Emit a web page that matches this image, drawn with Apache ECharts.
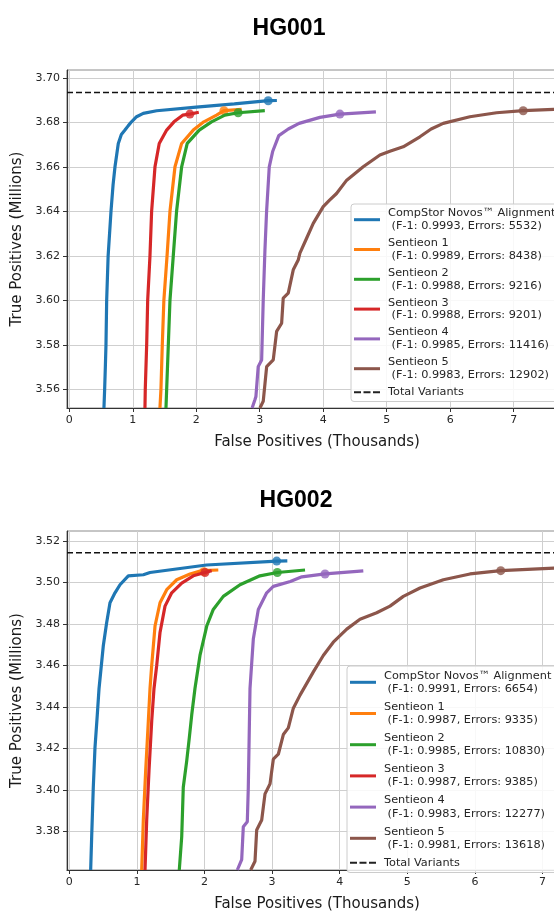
<!DOCTYPE html>
<html>
<head>
<meta charset="utf-8">
<script src="https://cdn.jsdelivr.net/npm/echarts@6/dist/echarts.min.js"></script>
<style>
html,body{margin:0;padding:0;overflow:hidden;background:#fff;}
#c{width:600px;height:913px;}
</style>
</head>
<body>
<div id="c"></div>
<script>
// ---------- DATA ----------
const colors = ['#1f77b4', '#ff7f0e', '#2ca02c', '#d62728', '#9467bd', '#8c564b'];
const xTicks = [0, 1, 2, 3, 4, 5, 6, 7];
const yTicks1 = [3.56, 3.58, 3.60, 3.62, 3.64, 3.66, 3.68, 3.70];
const yTicks2 = [3.38, 3.40, 3.42, 3.44, 3.46, 3.48, 3.50, 3.52];

const names1 = [
  'CompStor Novos\u2122 Alignment\n (F-1: 0.9993, Errors: 5532)',
  'Sentieon 1\n (F-1: 0.9989, Errors: 8438)',
  'Sentieon 2\n (F-1: 0.9988, Errors: 9216)',
  'Sentieon 3\n (F-1: 0.9988, Errors: 9201)',
  'Sentieon 4\n (F-1: 0.9985, Errors: 11416)',
  'Sentieon 5\n (F-1: 0.9983, Errors: 12902)'
];
const names2 = [
  'CompStor Novos\u2122 Alignment\n (F-1: 0.9991, Errors: 6654)',
  'Sentieon 1\n (F-1: 0.9987, Errors: 9335)',
  'Sentieon 2\n (F-1: 0.9985, Errors: 10830)',
  'Sentieon 3\n (F-1: 0.9987, Errors: 9385)',
  'Sentieon 4\n (F-1: 0.9983, Errors: 12277)',
  'Sentieon 5\n (F-1: 0.9981, Errors: 13618)'
];
const totalName = 'Total Variants';
const totalVariants1 = 3.6934;
const totalVariants2 = 3.5143;

// HG001 curves [false positives (thousands), true positives (millions)]
const hg001_compstor = [[0.546,3.5516],[0.557,3.56],[0.568,3.57],[0.578,3.58],[0.589,3.60],[0.612,3.62],[0.657,3.64],[0.69,3.652],[0.72,3.66],[0.772,3.6705],[0.82,3.6745],[0.877,3.6765],[0.93,3.6785],[0.98,3.6802],[1.06,3.6825],[1.165,3.684],[1.376,3.6852],[2.0,3.6868],[2.6,3.6883],[3.134,3.6897],[3.27,3.6898]];
const hg001_s1 = [[1.428,3.5516],[1.444,3.56],[1.465,3.58],[1.49,3.60],[1.54,3.62],[1.586,3.64],[1.665,3.66],[1.77,3.6705],[1.953,3.6765],[2.12,3.6802],[2.32,3.6832],[2.436,3.6852],[2.715,3.6858]];
const hg001_s2 = [[1.523,3.5516],[1.534,3.56],[1.56,3.58],[1.586,3.60],[1.638,3.62],[1.69,3.64],[1.77,3.66],[1.858,3.6705],[2.047,3.6765],[2.24,3.6802],[2.45,3.6832],[2.66,3.6843],[3.08,3.6852]];
const hg001_s3 = [[1.192,3.5516],[1.197,3.56],[1.219,3.58],[1.235,3.60],[1.271,3.62],[1.297,3.64],[1.35,3.66],[1.417,3.6705],[1.534,3.6765],[1.649,3.6802],[1.786,3.6832],[1.90,3.6837],[2.04,3.6845]];
const hg001_s4 = [[2.88,3.5516],[2.924,3.5553],[2.94,3.5568],[2.976,3.5702],[3.03,3.5732],[3.055,3.60],[3.082,3.6226],[3.108,3.64],[3.15,3.66],[3.205,3.667],[3.30,3.674],[3.45,3.677],[3.62,3.6795],[3.948,3.6822],[4.263,3.6837],[4.83,3.6847]];
const hg001_s5 = [[3.003,3.5516],[3.055,3.5546],[3.109,3.5702],[3.213,3.5732],[3.266,3.586],[3.345,3.5897],[3.37,3.601],[3.449,3.6032],[3.528,3.6137],[3.606,3.6181],[3.633,3.6212],[3.74,3.628],[3.843,3.6346],[4.0,3.6421],[4.1,3.645],[4.21,3.648],[4.37,3.654],[4.5,3.657],[4.63,3.660],[4.893,3.6653],[5.05,3.667],[5.26,3.669],[5.523,3.6735],[5.7,3.677],[5.89,3.6795],[6.31,3.6825],[6.73,3.6843],[7.15,3.6852],[7.63,3.6858],[7.8,3.686]];
const hg001_markers = [[3.134,3.6897],[2.436,3.6852],[2.66,3.6843],[1.90,3.6837],[4.263,3.6837],[7.15,3.6852]];

// HG002 curves
const hg002_compstor = [[0.316,3.3614],[0.331,3.3775],[0.355,3.4013],[0.38,3.4204],[0.414,3.4362],[0.44,3.4489],[0.503,3.4695],[0.553,3.4807],[0.602,3.4902],[0.676,3.495],[0.75,3.4989],[0.873,3.5032],[1.095,3.5037],[1.194,3.5048],[2.03,3.5084],[3.068,3.5103],[3.225,3.5104]];
const hg002_s1 = [[1.071,3.3614],[1.095,3.3855],[1.13,3.4093],[1.169,3.4331],[1.194,3.4489],[1.219,3.46],[1.268,3.479],[1.342,3.4902],[1.441,3.4965],[1.589,3.5013],[1.786,3.5041],[1.959,3.5057],[2.204,3.506]];
const hg002_s2 = [[1.627,3.3614],[1.663,3.3775],[1.686,3.4013],[1.737,3.414],[1.775,3.4251],[1.811,3.4362],[1.859,3.4489],[1.933,3.4648],[2.033,3.479],[2.13,3.487],[2.278,3.4933],[2.525,3.4989],[2.82,3.5032],[3.077,3.5048],[3.487,3.506]];
const hg002_s3 = [[1.12,3.3614],[1.145,3.3855],[1.179,3.4093],[1.219,3.4331],[1.253,3.4489],[1.293,3.46],[1.342,3.4759],[1.416,3.4886],[1.515,3.495],[1.663,3.4997],[1.834,3.5032],[2.007,3.5048],[2.106,3.5057]];
const hg002_s4 = [[2.485,3.3614],[2.55,3.3664],[2.574,3.3823],[2.633,3.3847],[2.648,3.4013],[2.673,3.4489],[2.722,3.4727],[2.796,3.487],[2.92,3.495],[3.018,3.4981],[3.269,3.5005],[3.44,3.5027],[3.783,3.5041],[4.349,3.5056]];
const hg002_s5 = [[2.683,3.3614],[2.747,3.3656],[2.772,3.3807],[2.846,3.3855],[2.895,3.3981],[2.969,3.4029],[3.018,3.4148],[3.092,3.4172],[3.166,3.4267],[3.24,3.4299],[3.314,3.4394],[3.413,3.4457],[3.61,3.4569],[3.757,3.4648],[3.905,3.4712],[4.104,3.4775],[4.30,3.4823],[4.547,3.4854],[4.744,3.4886],[4.941,3.4933],[5.188,3.4973],[5.533,3.5013],[5.927,3.5041],[6.382,3.5057],[7.17,3.5069],[7.4,3.507]];
const hg002_markers = [[3.068,3.5103],[1.99,3.5052],[3.077,3.5048],[2.007,3.5048],[3.783,3.5041],[6.382,3.5057]];

// axis ranges
const xRange1 = [-0.036, 7.84];
const yRange1 = [3.5516, 3.7035];
const xRange2 = [-0.034, 7.362];
const yRange2 = [3.3614, 3.5248];

// ---------- BUILD ----------
const FONT = 'DejaVu Sans';
const curves1 = [hg001_compstor, hg001_s1, hg001_s2, hg001_s3, hg001_s4, hg001_s5];
const curves2 = [hg002_compstor, hg002_s1, hg002_s2, hg002_s3, hg002_s4, hg002_s5];
const solidIcon = 'path://M0,0H26V3H0Z';
const dashIcon = 'path://M0,0.5H7V2.5H0Z M9.5,0.5H16.5V2.5H9.5Z M19,0.5H26V2.5H19Z';

function xAxis(gi, r){
  return {
    gridIndex: gi, type: 'value', min: r[0], max: r[1],
    name: 'False Positives (Thousands)', nameLocation: 'middle', nameGap: 27,
    nameTextStyle: {fontFamily: FONT, fontSize: 15, color: '#1a1a1a'},
    axisLine: {show: true, onZero: false, lineStyle: {color: '#333', width: 1.2}},
    axisTick: {show: true, length: 4, lineStyle: {color: '#333'}, customValues: xTicks},
    axisLabel: {fontFamily: FONT, fontSize: 11, color: '#262626', margin: 7, customValues: xTicks},
    splitLine: {show: true, lineStyle: {color: '#cfcfcf', width: 1}}
  };
}
function yAxis(gi, r, ticks){
  return {
    gridIndex: gi, type: 'value', min: r[0], max: r[1],
    name: 'True Positives (Millions)', nameLocation: 'middle', nameGap: 41,
    nameTextStyle: {fontFamily: FONT, fontSize: 15, color: '#1a1a1a'},
    axisLine: {show: true, onZero: false, lineStyle: {color: '#333', width: 1.2}},
    axisTick: {show: true, length: 4, lineStyle: {color: '#333'}, customValues: ticks},
    axisLabel: {fontFamily: FONT, fontSize: 11, color: '#262626', margin: 7, customValues: ticks,
      formatter: v => v.toFixed(2)},
    splitLine: {show: true, lineStyle: {color: '#cfcfcf', width: 1}}
  };
}

const series = [];
function addPanel(gi, curves, names, markers, total, xr){
  curves.forEach((d, i) => {
    series.push({
      type: 'line', name: names[i], xAxisIndex: gi, yAxisIndex: gi,
      data: d, symbol: 'none', showSymbol: false, smooth: false,
      lineStyle: {color: colors[i], width: 3.2}, itemStyle: {color: colors[i]},
      z: 2 + i
    });
  });
  series.push({
    type: 'line', name: totalName, xAxisIndex: gi, yAxisIndex: gi,
    data: [[xr[0], total], [xr[1], total]], symbol: 'none', showSymbol: false,
    lineStyle: {color: '#111', width: 1.6, type: [6, 3]}, itemStyle: {color: '#222'}, z: 1
  });
  markers.forEach((m, i) => {
    series.push({
      type: 'scatter', name: 'marker' + gi + '_' + i, xAxisIndex: gi, yAxisIndex: gi,
      data: [m], symbol: 'circle', symbolSize: 9,
      itemStyle: {color: colors[i]}, z: 2 + i
    });
  });
}
addPanel(0, curves1, names1, hg001_markers, totalVariants1, xRange1);
addPanel(1, curves2, names2, hg002_markers, totalVariants2, xRange2);

function legend(names, left, top, lh, gap){
  return {
    orient: 'vertical', left: left, top: top,
    data: names.map(n => ({name: n, icon: solidIcon})).concat([{name: totalName, icon: dashIcon}]),
    itemWidth: 26, itemHeight: 3, itemGap: gap,
    padding: [3, 6, 3, 3],
    backgroundColor: 'rgba(255,255,255,0.85)', borderColor: '#cccccc', borderWidth: 1, borderRadius: 3,
    textStyle: {fontFamily: FONT, fontSize: 11.3, color: '#262626', lineHeight: lh, padding: [0, 0, 0, 3]},
    selectedMode: false
  };
}

const option = {
  animation: false,
  backgroundColor: '#fff',
  title: [
    {text: 'HG001', left: 284, top: 12, textAlign: 'center',
     textStyle: {fontFamily: 'Liberation Sans', fontWeight: 'bold', fontSize: 23, color: '#000'}},
    {text: 'HG002', left: 291, top: 484, textAlign: 'center',
     textStyle: {fontFamily: 'Liberation Sans', fontWeight: 'bold', fontSize: 23, color: '#000'}}
  ],
  grid: [
    {left: 67, top: 70, width: 500, height: 338, show: true, borderColor: '#8c8c8c', borderWidth: 1, backgroundColor: 'transparent'},
    {left: 67, top: 531, width: 500, height: 342, show: true, borderColor: '#8c8c8c', borderWidth: 1, backgroundColor: 'transparent'}
  ],
  legend: [legend(names1, 351, 204, 12.7, 4.4), legend(names2, 347, 666, 13.3, 4.6)],
  xAxis: [xAxis(0, xRange1), xAxis(1, xRange2)],
  yAxis: [yAxis(0, yRange1, yTicks1), yAxis(1, yRange2, yTicks2)],
  series: series
};

const chart = echarts.init(document.getElementById('c'), null, {renderer: 'canvas'});
chart.setOption(option);
</script>
</body>
</html>
